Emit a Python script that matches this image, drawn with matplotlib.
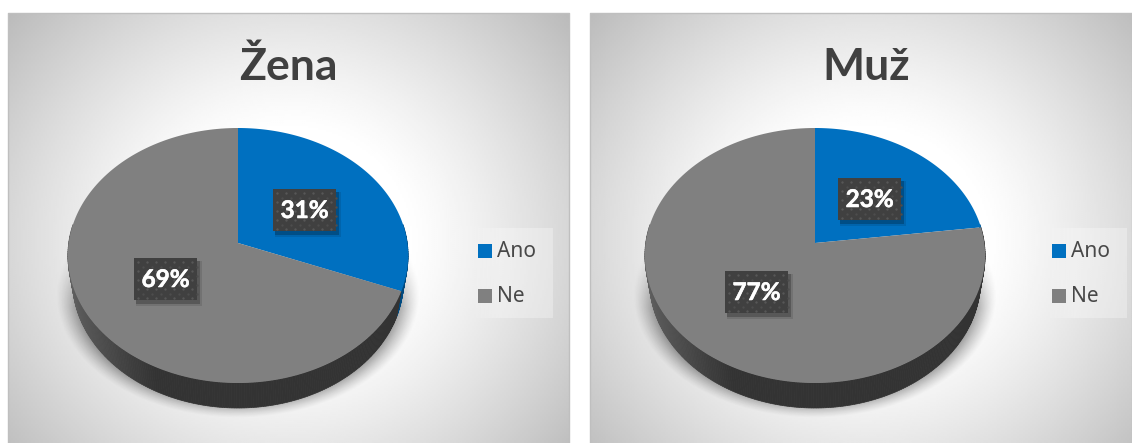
import matplotlib.pyplot as plt
import numpy as np
import matplotlib.patheffects as pe
from matplotlib.patches import Rectangle

# Dane
titles = ['Žena', 'Muž']
categories = ['Ano', 'Ne']
values = [(31, 69), (23, 77)]
colors = ['#0070c0', '#808080']
side_colors = ['#004a80', '#333333']

# Rozmieszczenie paneli (piksele)
panels = [(8, 569), (590, 1132)]
panel_top, panel_bottom = 13, 443
centers = [238, 815]
title_x = [288, 866]
legend_x = [478, 1052]
label_boxes = [[(273, 189), (134, 258)], [(838, 178), (725, 271)]]
box_w, box_h = 63, 42

# Perspektywa tarczy
top_y, mid_y, low_y = 128, 243, 383
depth = 25
C = (2 * mid_y - top_y - low_y) / (low_y - top_y) * -1
A = top_y * (1 + C) - mid_y
rx = 169.3


def rim(theta, cx, scale=1.0, dy=0):
    # theta liczone od góry, zgodnie z ruchem wskazówek
    u, v = np.sin(theta), np.cos(theta)
    den = C * v + 1
    return cx + scale * rx * u / den, (A * v + mid_y) / den + dy


fig = plt.figure(figsize=(11.32, 4.43), dpi=100)
ax = fig.add_axes([0, 0, 1, 1])
ax.axis('off')

for i, (x0, x1) in enumerate(panels):
    # Tło panelu: gradient radialny
    xx, yy = np.meshgrid(np.linspace(x0, x1, 280), np.linspace(panel_top, panel_bottom, 215))
    r = np.hypot((xx - title_x[i]) / 280, (yy - 240) / 260)
    g = 1 - 0.15 * (np.clip(r - 0.42, 0, None) / 0.56) ** 1.2
    ax.imshow(g, cmap='gray', vmin=0, vmax=1, extent=(x0, x1, panel_bottom, panel_top),
              aspect='auto', zorder=0, interpolation='bilinear')
    ax.plot([x0, x0, x1, x1], [panel_bottom, panel_top, panel_top, panel_bottom],
            color='#bfbfbf', lw=1, zorder=1)

for i, (title, vals) in enumerate(zip(titles, values)):
    cx = centers[i]
    split = 2 * np.pi * vals[0] / sum(vals)

    # Stín pod tarczą
    sx, sy = np.meshgrid(np.arange(cx - 200, cx + 200), np.arange(225, 425))
    d = np.hypot((sx + 0.5 - cx) / 182, (sy + 0.5 - 295) / 123)
    shade = np.clip((1 - d) / 0.11, 0, 1) ** 1.3 * np.clip((sy - 232) / 75, 0, 1) * 0.34
    rgba = np.zeros(shade.shape + (4,))
    rgba[..., 3] = shade
    ax.imshow(rgba, extent=(cx - 200, cx + 200, 425, 225), aspect='auto', zorder=2)

    # Bok tarczy
    ang = np.linspace(np.pi / 2 - 0.15, 3 * np.pi / 2 + 0.15, 260)
    for a0, a1 in zip(ang[:-1], ang[1:]):
        xa, ya = rim(np.array([a0, a1]), cx)
        xb, yb = rim(np.array([a1, a0]), cx, 0.973, depth)
        if a0 < split:
            c = side_colors[0]
        else:
            u = np.sin((a0 + a1) / 2)
            t = np.clip((u + 1) / 0.55, 0, 1) if u < 0 else 1
            level = 0.38 - 0.18 * t
            c = (level, level, level)
        ax.fill(np.r_[xa, xb], np.r_[ya, yb], color=c, lw=0.5, zorder=3)

    # Výseče
    edges = [0, split, 2 * np.pi]
    for k in range(2):
        t = np.linspace(edges[k], edges[k + 1], 160)
        px, py = rim(t, cx)
        ax.fill(np.r_[cx, px], np.r_[mid_y, py], color=colors[k], lw=0, zorder=4)

    # Popisky hodnot
    for (bx, by), v in zip(label_boxes[i], vals):
        ax.add_patch(Rectangle((bx + 2, by + 3), box_w + 3, box_h + 3, color='black', alpha=0.10, lw=0, zorder=5))
        ax.add_patch(Rectangle((bx + 2, by + 3), box_w + 1, box_h + 1, color='black', alpha=0.22, lw=0, zorder=5))
        ax.add_patch(Rectangle((bx, by), box_w, box_h, color='#404040', lw=0, zorder=6))
        dx, dy = np.meshgrid(np.arange(bx + 4, bx + box_w, 9), np.arange(by + 4, by + box_h, 9))
        ax.scatter(dx.ravel(), dy.ravel(), s=3, color='#575757', lw=0, zorder=7)
        dx, dy = np.meshgrid(np.arange(bx + 8.5, bx + box_w, 9), np.arange(by + 8.5, by + box_h, 9))
        ax.scatter(dx.ravel(), dy.ravel(), s=3, color='#4d4d4d', lw=0, zorder=7)
        ax.text(bx + box_w / 2, by + box_h / 2 + 0.5, f'{v}%', color='white', fontsize=17.5,
                fontweight='bold', family='Lato', ha='center', va='center', zorder=8,
                path_effects=[pe.withStroke(linewidth=0.4, foreground='white')])

    # Nadpis
    ax.text(title_x[i], 80, title, color='#404040', fontsize=32, fontweight='bold',
            family='Lato', ha='center', va='baseline', zorder=8)

    # Legenda
    lx = legend_x[i]
    fade = np.zeros((1, 83, 4))
    fade[..., :3] = 1
    fade[..., 3] = 0.3 * np.clip(np.arange(83) / 30, 0, 1)
    ax.imshow(fade, extent=(lx - 8, lx + 75, 318, 228), aspect='auto', zorder=2)
    for k, name in enumerate(categories):
        ly = 244 + 44.5 * k
        ax.add_patch(Rectangle((lx, ly), 14, 14, color=colors[k], lw=0, zorder=5))
        ax.text(lx + 19, ly + 7.5, name, color='#484848', fontsize=15, family='Noto Sans',
                ha='left', va='center', zorder=8)

ax.set_xlim(0, 1132)
ax.set_ylim(443, 0)

fig.savefig('out.png', dpi=100)
